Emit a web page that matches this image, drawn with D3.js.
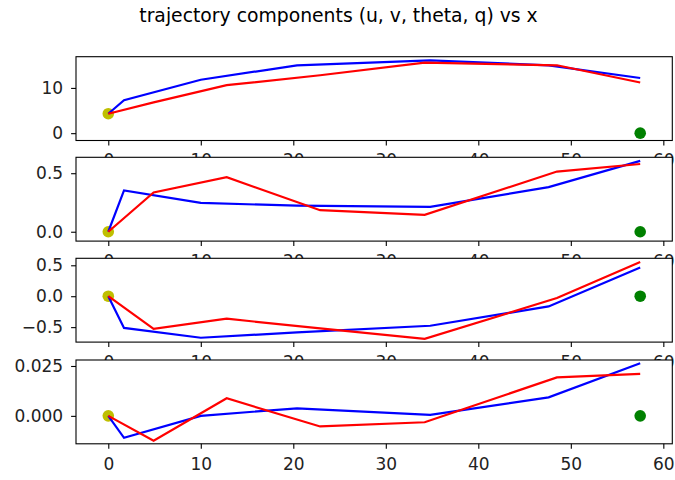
<!DOCTYPE html>
<html lang="en">
<head>
  <meta charset="UTF-8">
  <title>trajectory components</title>
  <script src="https://cdn.jsdelivr.net/npm/d3@7/dist/d3.min.js"></script>
  <style>
    html, body { margin: 0; padding: 0; background: #fff; }
    svg { display: block; font-family: "DejaVu Sans", sans-serif; }
  </style>
</head>
<body>
  <div id="chart"></div>
  <script>
    // x positions of the two trajectories
    const xBlue = [0, 1.7, 10.0, 20.4, 34.8, 47.6, 57.5];
    const xRed  = [0, 4.9, 12.8, 22.9, 34.2, 48.5, 57.5];

    // components
    const uBlue = [4.3, 7.3, 11.8, 15.0, 16.1, 15.0, 12.2];
    const uRed  = [4.3, 6.8, 10.6, 12.8, 15.6, 15.0, 11.2];
    const vBlue = [0, 0.353, 0.246, 0.223, 0.212, 0.381, 0.605];
    const vRed  = [0, 0.336, 0.466, 0.184, 0.144, 0.514, 0.579];
    const thetaBlue = [0, -0.513, -0.672, -0.585, -0.478, -0.165, 0.465];
    const thetaRed  = [0, -0.528, -0.364, -0.52, -0.69, -0.03, 0.552];
    const qBlue = [0, -0.011, 0.0, 0.0038, 0.0005, 0.0093, 0.0264];
    const qRed  = [0, -0.0125, 0.0088, -0.0053, -0.0032, 0.0193, 0.021];

    // start (yellow) and goal (green) markers
    const goalX = 57.5;
    const goalY = 0;

    const xTicks = [0, 10, 20, 30, 40, 50, 60];
    const uTicks = [0, 10];
    const vTicks = [0, 0.5];
    const thetaTicks = [-0.5, 0, 0.5];
    const qTicks = [0, 0.025];

    const W = 675, H = 480;
    const left = 76, right = 672.3;
    const tops = [56.7, 157.3, 258.3, 360];
    const ph = 83.8;
    const fs = 17;

    const panels = [
      { blue: uBlue, red: uRed, ticks: uTicks, domain: [-1.62, 16.9], fmt: d3.format('d') },
      { blue: vBlue, red: vRed, ticks: vTicks, domain: [-0.08, 0.636], fmt: d3.format('.1f') },
      { blue: thetaBlue, red: thetaRed, ticks: thetaTicks, domain: [-0.742, 0.613], fmt: d3.format('.1f') },
      { blue: qBlue, red: qRed, ticks: qTicks, domain: [-0.014, 0.028], fmt: d3.format('.3f') }
    ];

    const svg = d3.select('#chart').append('svg')
      .attr('width', W)
      .attr('height', H);

    svg.append('rect').attr('width', W).attr('height', H).attr('fill', '#fff');

    svg.append('text')
      .attr('x', W / 2 + 1)
      .attr('y', 21.7)
      .attr('text-anchor', 'middle')
      .attr('font-size', 18.8)
      .attr('fill', '#000')
      .text('trajectory components (u, v, theta, q) vs x');

    const x = d3.scaleLinear().domain([-3.49, 60.97]).range([left, right]);

    panels.forEach((p, i) => {
      const top = tops[i];
      const y = d3.scaleLinear().domain(p.domain).range([top + ph, top]);
      const g = svg.append('g');

      // axes background hides tick labels of the panel above
      g.append('rect')
        .attr('x', left).attr('y', top)
        .attr('width', right - left).attr('height', ph)
        .attr('fill', '#fff');

      const line = d3.line().x(d => x(d[0])).y(d => y(d[1]));

      g.append('circle')
        .attr('cx', x(0)).attr('cy', y(p.blue[0]))
        .attr('r', 5.8).attr('fill', '#bfbf00');

      g.append('path')
        .datum(xBlue.map((v, k) => [v, p.blue[k]]))
        .attr('d', line)
        .attr('fill', 'none').attr('stroke', '#0000ff').attr('stroke-width', 2.2);

      g.append('path')
        .datum(xRed.map((v, k) => [v, p.red[k]]))
        .attr('d', line)
        .attr('fill', 'none').attr('stroke', '#ff0000').attr('stroke-width', 2.2);

      g.append('circle')
        .attr('cx', x(goalX)).attr('cy', y(goalY))
        .attr('r', 5.8).attr('fill', '#008000');

      const xAxis = g.append('g')
        .attr('transform', `translate(0,${top + ph})`)
        .call(d3.axisBottom(x).tickValues(xTicks).tickSize(4.9).tickPadding(9).tickFormat(d3.format('d')));
      const yAxis = g.append('g')
        .attr('transform', `translate(${left},0)`)
        .call(d3.axisLeft(y).tickValues(p.ticks).tickSize(4.9).tickPadding(8)
          .tickFormat(d => p.fmt(d).replace('-', '\u2212')));

      [xAxis, yAxis].forEach(a => {
        a.select('.domain').remove();
        a.selectAll('line').attr('stroke', '#000').attr('stroke-width', 1.1);
        a.selectAll('text').attr('font-size', fs).attr('fill', '#222')
          .attr('font-family', '"DejaVu Sans", sans-serif');
      });

      g.append('rect')
        .attr('x', left).attr('y', top)
        .attr('width', right - left).attr('height', ph)
        .attr('fill', 'none').attr('stroke', '#000').attr('stroke-width', 1.1);
    });
  </script>
</body>
</html>
